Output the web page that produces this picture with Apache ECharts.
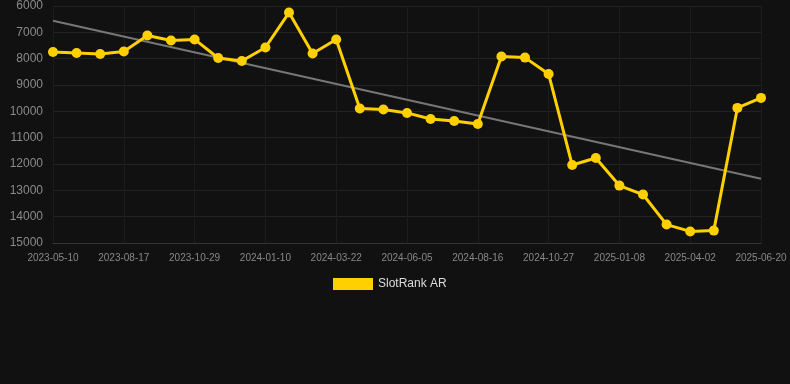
<!DOCTYPE html>
<html>
<head>
<meta charset="utf-8">
<script src="https://cdn.jsdelivr.net/npm/echarts@6/dist/echarts.min.js"></script>
<style>
  html, body { margin: 0; padding: 0; background: #111111; }
  #chart { width: 790px; height: 384px; }
</style>
</head>
<body>
<div id="chart"></div>
<script>
var dates = [
  '2023-05-10', '2023-06-02', '2023-06-25', '2023-08-17', '2023-09-09', '2023-10-06',
  '2023-10-29', '2023-11-21', '2023-12-14', '2024-01-10', '2024-02-02', '2024-02-27',
  '2024-03-22', '2024-04-14', '2024-05-10', '2024-06-05', '2024-06-28', '2024-07-21',
  '2024-08-16', '2024-09-08', '2024-10-01', '2024-10-27', '2024-11-19', '2024-12-12',
  '2025-01-08', '2025-01-31', '2025-02-23', '2025-04-02', '2025-04-25', '2025-05-28',
  '2025-06-20'
];
var rankValues = [
  7750, 7785, 7820, 7730, 7120, 7310, 7270, 7975, 8090, 7575, 6250, 7805,
  7270, 9890, 9930, 10060, 10290, 10370, 10480, 7920, 7960, 8580, 12040, 11770,
  12820, 13160, 14300, 14560, 14530, 9870, 9490
];
// trend line ends
var trendStart = 6560;
var trendEnd = 12560;

var trendData = rankValues.map(function () { return null; });
trendData[0] = trendStart;
trendData[trendData.length - 1] = trendEnd;

var myChart = echarts.init(document.getElementById('chart'));
var option = {
  backgroundColor: '#111111',
  animation: false,
  grid: { left: 53, right: 29, top: 6, bottom: 141 },
  legend: {
    top: 273,
    left: 328,
    itemWidth: 40,
    itemHeight: 12,
    itemGap: 10,
    textStyle: { color: '#dddddd', fontSize: 12 },
    data: [{ name: 'SlotRank AR', icon: 'rect' }]
  },
  xAxis: {
    type: 'category',
    data: dates,
    boundaryGap: false,
    axisLine: { lineStyle: { color: '#333333' } },
    axisTick: { show: false },
    axisLabel: { color: '#888888', fontSize: 10, interval: 2, margin: 10 },
    splitLine: { show: true, interval: 2, lineStyle: { color: '#1c1c1c' } }
  },
  yAxis: {
    type: 'value',
    inverse: true,
    min: 6000,
    max: 15000,
    interval: 1000,
    axisLine: { show: false },
    axisTick: { show: false },
    axisLabel: {
      color: '#8a8a8a',
      fontSize: 12,
      margin: 10,
      formatter: function (v) { return String(v); }
    },
    splitLine: { lineStyle: { color: '#222222' } }
  },
  series: [
    {
      name: 'trend',
      type: 'line',
      data: trendData,
      connectNulls: true,
      symbol: 'none',
      lineStyle: { color: '#777777', width: 2 },
      z: 1
    },
    {
      name: 'SlotRank AR',
      type: 'line',
      data: rankValues,
      symbol: 'circle',
      symbolSize: 10,
      itemStyle: { color: '#ffd000' },
      lineStyle: { color: '#ffd000', width: 3 },
      z: 2
    }
  ]
};
myChart.setOption(option);
</script>
</body>
</html>
